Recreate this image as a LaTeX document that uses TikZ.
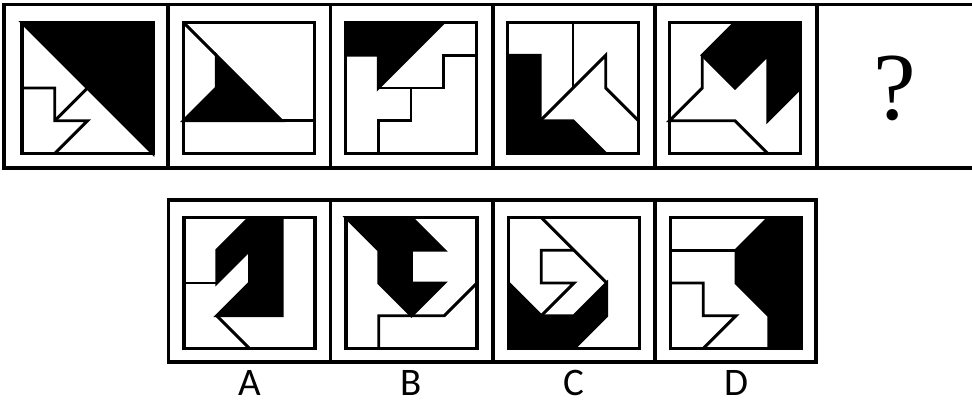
\documentclass[tikz,border=0pt]{standalone}
\usepackage{fontspec}
\newfontfamily\labfont{Carlito}
\newfontfamily\qfont{Liberation Serif}
\newcommand{\pnl}[3]{\begin{scope}[shift={(#1-65.5,#2-65.5)},x=32.75pt,y=-32.75pt]#3\draw[sq] (0,0) rectangle (4,4);\end{scope}}
\begin{document}
\begin{tikzpicture}[x=1pt,y=-1pt,
  frame/.style={line width=3.2pt},
  sq/.style={line width=3.2pt,line join=miter},
  ln/.style={line width=2.9pt},
  blk/.style={fill=black,draw=black,line width=2.9pt,line join=miter},
  lab/.style={font=\labfont\fontsize{39}{39}\selectfont,inner sep=0pt,anchor=base}]
\useasboundingbox (0,0) rectangle (972,405);
% top row frame
\draw[frame] (4,4.5) rectangle (980,168);
\foreach \x in {168,330.5,493,655,817} \draw[frame] (\x,4.5) -- (\x,168);
% bottom row frame
\draw[frame] (168.5,200) rectangle (816,362);
\foreach \x in {330.5,493,655} \draw[frame] (\x,200) -- (\x,362);
% panel 1
\pnl{87.5}{88}{
  \filldraw[blk] (0,0) -- (4,0) -- (4,4) -- cycle;
  \draw[ln] (0,0) -- (4,4);
  \draw[ln] (0,2) -- (1,2) -- (1,3) -- (2,3) -- (1,4);
  \draw[ln] (2,2) -- (1,3);
}
% panel 2
\pnl{249}{88}{
  \filldraw[blk] (1,1) -- (1,2) -- (0,3) -- (3,3) -- cycle;
  \draw[ln] (0,0) -- (1,1);
  \draw[ln] (0,3) -- (4,3);
}
% panel 3
\pnl{411}{88}{
  \filldraw[blk] (0,0) -- (3,0) -- (1,2) -- (1,1) -- (0,1) -- cycle;
  \draw[ln] (4,1) -- (3,1) -- (3,2) -- (1,2);
  \draw[ln] (2,2) -- (2,3) -- (1,3) -- (1,4);
}
% panel 4
\pnl{573}{88}{
  \filldraw[blk] (0,1) -- (1,1) -- (1,3) -- (2,3) -- (3,4) -- (0,4) -- cycle;
  \draw[ln] (2,0) -- (2,2);
  \draw[ln] (1,3) -- (3,1) -- (3,2) -- (4,3);
}
% panel 5
\pnl{735}{88}{
  \filldraw[blk] (2,0) -- (4,0) -- (4,2) -- (3,3) -- (3,1) -- (2,2) -- (1,1) -- cycle;
  \draw[ln] (1,1) -- (1,2) -- (0,3) -- (2,3) -- (3,4);
}
% question mark
\node[font=\qfont\fontsize{96}{96}\selectfont,inner sep=0pt] (q) at (895,88) {?};
% option A
\pnl{249.5}{283}{
  \filldraw[blk] (2,0) -- (3,0) -- (3,3) -- (1,3) -- (2,2) -- (2,1) -- (1,2) -- (1,1) -- cycle;
  \draw[ln] (0,2) -- (1,2);
  \draw[ln] (1,3) -- (2,4);
}
% option B
\pnl{411.5}{283}{
  \filldraw[blk] (0,0) -- (2,0) -- (3,1) -- (2,1) -- (2,2) -- (3,2) -- (2,3) -- (1,2) -- (1,1) -- cycle;
  \draw[ln] (1,4) -- (1,3) -- (3,3) -- (4,2);
}
% option C
\pnl{574}{283}{
  \filldraw[blk] (0,2) -- (1,3) -- (2,3) -- (3,2) -- (3,3) -- (2,4) -- (0,4) -- cycle;
  \draw[ln] (1,0) -- (3,2);
  \draw[ln] (2,1) -- (1,1) -- (1,2) -- (2,2) -- (1,3);
}
% option D
\pnl{736}{283}{
  \filldraw[blk] (3,0) -- (4,0) -- (4,4) -- (3,4) -- (3,3) -- (2,2) -- (2,1) -- cycle;
  \draw[ln] (0,1) -- (2,1);
  \draw[ln] (0,2) -- (1,2) -- (1,3) -- (2,3) -- (1,4);
}
% labels
\node[lab] (la) at (249.5,395) {A};
\node[lab] (lb) at (411.5,395) {B};
\node[lab] (lc) at (574,395) {C};
\node[lab] (ld) at (736,395) {D};
\end{tikzpicture}
\end{document}
